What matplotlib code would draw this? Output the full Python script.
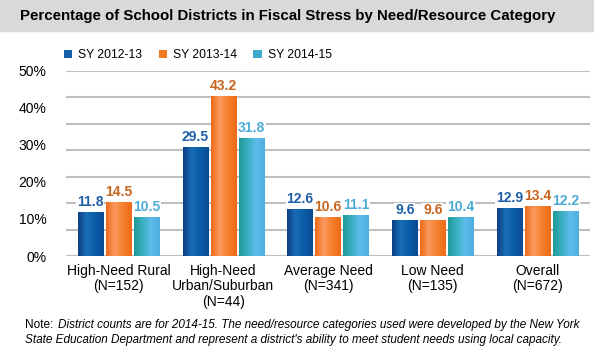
import numpy as np
import matplotlib.pyplot as plt
from matplotlib.colors import LinearSegmentedColormap
from matplotlib.patches import Rectangle

plt.rcParams['font.family'] = ['Liberation Sans', 'DejaVu Sans']

# data
categories = ["High-Need Rural\n(N=152)", "High-Need\nUrban/Suburban\n(N=44)",
              "Average Need\n(N=341)", "Low Need\n(N=135)", "Overall\n(N=672)"]
series = ["SY 2012-13", "SY 2013-14", "SY 2014-15"]
sy_2012 = [11.8, 29.5, 12.6, 9.6, 12.9]
sy_2013 = [14.5, 43.2, 10.6, 9.6, 13.4]
sy_2014 = [10.5, 31.8, 11.1, 10.4, 12.2]
yticks = [0, 10, 20, 30, 40, 50]

values = [sy_2012, sy_2013, sy_2014]
base_colors = ["#1660AA", "#F47A20", "#3DAACF"]
label_colors = ["#1F5FA8", "#C8641E", "#4BACD6"]
gradients = [
    ["#0B3F86", "#1A6EB5", "#0A5CA8", "#0C4A92"],
    ["#EE6A18", "#F99A5E", "#F47F2C", "#EE6A18"],
    ["#1E9A9A", "#3AB0C0", "#5FBCEB", "#4DAFE0"],
]

fig = plt.figure(figsize=(5.94, 3.6), dpi=100)

# grey title band
fig.patches.append(Rectangle((0, 1 - 31 / 360), 1, 31 / 360, transform=fig.transFigure,
                             color="#D9D9D9", zorder=0))
fig.text(20 / 594, 1 - 16 / 360, "Percentage of School Districts in Fiscal Stress by Need/Resource Category",
         fontsize=10.8, fontweight="bold", va="center", ha="left")

ax = fig.add_axes([66 / 594, 1 - 256 / 360, 524 / 594, (256 - 70.7) / 360])

x = np.arange(len(categories))
slot = 0.267
width = 0.24
for i, (vals, name) in enumerate(zip(values, series)):
    bars = ax.bar(x + (i - 1) * slot, vals, width, color=base_colors[i], label=name, zorder=3)
    cmap = LinearSegmentedColormap.from_list(f"g{i}", gradients[i])
    grad = np.linspace(0, 1, 64).reshape(1, -1)
    for b, v in zip(bars, vals):
        im = ax.imshow(grad, cmap=cmap, aspect="auto", zorder=3.5,
                       extent=[b.get_x(), b.get_x() + b.get_width(), 0, b.get_height()])
        im.set_clip_path(b)
        ax.text(b.get_x() + b.get_width() / 2, v + 0.8, f"{v:.1f}", ha="center", va="bottom",
                fontsize=10, fontweight="bold", color=label_colors[i], zorder=5,
                bbox=dict(facecolor="white", edgecolor="none", pad=0.5))

# gridlines (excel-style spacing)
for g in np.linspace(0, 50, 8):
    ax.axhline(g, color="#BFBFBF", lw=1.5, zorder=1)

ax.set_xlim(-0.5, len(categories) - 0.5)
ax.set_ylim(0, 50)
ax.set_yticks(yticks)
ax.set_yticklabels([f"{t}%" for t in yticks], fontsize=10)
ax.set_xticks(x)
ax.set_xticklabels(categories, fontsize=10, linespacing=1.1, va="top")
ax.tick_params(axis="y", length=0, pad=14)
ax.tick_params(axis="x", length=0, pad=6)
for s in ax.spines.values():
    s.set_visible(False)

ax.legend(loc="center left", bbox_to_anchor=(59 / 594, 1 - 55 / 360), bbox_transform=fig.transFigure,
          ncol=3, frameon=False, fontsize=8.7, handlelength=0.7, handleheight=0.7,
          handletextpad=0.5, columnspacing=1.35, borderaxespad=0)

note = fig.text(25 / 594, 1 - 325 / 360, "Note: ", fontsize=8.5, va="center", ha="left")
fig.canvas.draw()
bb = note.get_window_extent()
fig.text(bb.x1 / fig.bbox.width + 2 / 594, 1 - 325 / 360,
         "District counts are for 2014-15. The need/resource categories used were developed by the New York",
         fontsize=8.5, style="italic", va="center", ha="left")
fig.text(25 / 594, 1 - 340 / 360,
         "State Education Department and represent a district's ability to meet student needs using local capacity.",
         fontsize=8.5, style="italic", va="center", ha="left")

fig.savefig("out.png", dpi=100)
